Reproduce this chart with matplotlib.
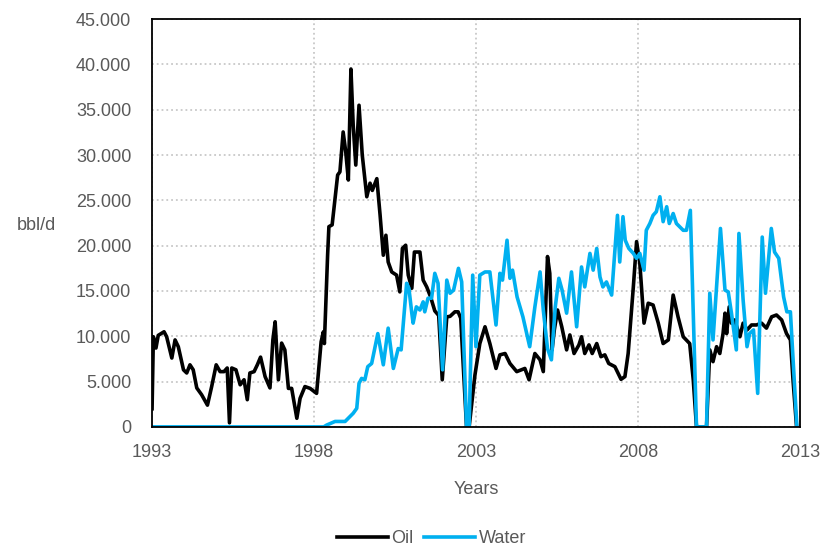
import matplotlib.pyplot as plt
from matplotlib.ticker import FuncFormatter

plt.rcParams['font.family'] = ['Liberation Sans', 'DejaVu Sans']

# oil production (decimal years, bbl/d)
oil_years = [1993.00, 1993.04, 1993.12, 1993.19, 1993.37, 1993.45, 1993.61, 1993.71, 1993.81, 1993.97,
             1994.07, 1994.17, 1994.27, 1994.38, 1994.53, 1994.71, 1994.84, 1994.98, 1995.10, 1995.22,
             1995.32, 1995.39, 1995.46, 1995.59, 1995.72, 1995.84, 1995.94, 1996.02, 1996.15, 1996.25,
             1996.35, 1996.49, 1996.64, 1996.73, 1996.80, 1996.90, 1997.00, 1997.10, 1997.21, 1997.31,
             1997.47, 1997.57, 1997.72, 1997.88, 1998.08, 1998.13, 1998.22, 1998.29, 1998.32, 1998.42,
             1998.46, 1998.56, 1998.65, 1998.73, 1998.80, 1998.90, 1998.98, 1999.06, 1999.14, 1999.21,
             1999.29, 1999.39, 1999.49, 1999.63, 1999.73, 1999.80, 1999.94, 2000.04, 2000.14, 2000.22,
             2000.29, 2000.40, 2000.55, 2000.65, 2000.73, 2000.83, 2000.91, 2001.02, 2001.10, 2001.27,
             2001.37, 2001.48, 2001.60, 2001.73, 2001.85, 2001.96, 2002.10, 2002.20, 2002.35, 2002.45,
             2002.53, 2002.71, 2002.79, 2002.97, 2003.12, 2003.28, 2003.43, 2003.62, 2003.74, 2003.90,
             2004.05, 2004.26, 2004.51, 2004.64, 2004.82, 2004.98, 2005.08, 2005.21, 2005.28, 2005.35,
             2005.42, 2005.52, 2005.65, 2005.80, 2005.90, 2006.03, 2006.18, 2006.26, 2006.36, 2006.49,
             2006.59, 2006.73, 2006.86, 2006.98, 2007.10, 2007.29, 2007.48, 2007.60, 2007.70, 2007.86,
             2007.96, 2008.06, 2008.19, 2008.32, 2008.47, 2008.63, 2008.78, 2008.94, 2009.09, 2009.24,
             2009.40, 2009.60, 2009.71, 2009.81, 2010.12, 2010.22, 2010.32, 2010.43, 2010.53, 2010.63,
             2010.69, 2010.74, 2010.82, 2010.89, 2010.99, 2011.15, 2011.25, 2011.37, 2011.51, 2011.66,
             2011.82, 2011.97, 2012.13, 2012.28, 2012.44, 2012.59, 2012.71, 2012.79, 2012.90]
oil_bbl = [2000, 9950, 8700, 10100, 10500, 9950, 7600, 9600, 8850, 6300,
           5950, 6850, 6300, 4300, 3550, 2400, 4450, 6850, 6100, 6100,
           6500, 450, 6500, 6300, 4650, 5200, 3000, 5950, 6100, 6850,
           7700, 5550, 4300, 9600, 11600, 5200, 9250, 8500, 4250, 4250,
           950, 3150, 4450, 4250, 3700, 5750, 9400, 10500, 9200, 18950,
           22100, 22300, 25200, 27800, 28150, 32550, 30350, 27250, 39500, 33300,
           28900, 35500, 30000, 25400, 26900, 26100, 27400, 23400, 18950, 21150,
           18200, 17100, 16750, 14900, 19700, 20050, 16750, 15300, 19300, 19300,
           16200, 15450, 14350, 12800, 12300, 5200, 12150, 12200, 12700, 12700,
           12000, 0, 0, 5750, 9200, 11050, 9200, 6450, 7950, 8100,
           7000, 6100, 6450, 5200, 8100, 7400, 6100, 18800, 16950, 8500,
           10700, 12900, 11050, 8500, 10150, 8100, 9050, 9950, 8100, 9050,
           8100, 9200, 7750, 7950, 7000, 6650, 5250, 5550, 8100, 15450,
           20450, 18050, 11450, 13650, 13450, 11450, 9200, 9600, 14550, 12150,
           9950, 9200, 5200, 0, 0, 8500, 7200, 8850, 8100, 10300,
           12550, 10300, 13250, 11450, 11800, 9950, 11450, 10700, 11250, 11250,
           11450, 10900, 12150, 12350, 11800, 10300, 9600, 5200, 0]

# water production
water_years = [1993.00, 1998.30, 1998.39, 1998.65, 1998.96, 1999.21, 1999.32, 1999.39, 1999.47, 1999.57,
               1999.66, 1999.78, 1999.97, 2000.14, 2000.29, 2000.45, 2000.60, 2000.69, 2000.86, 2000.93,
               2001.02, 2001.06, 2001.16, 2001.27, 2001.37, 2001.42, 2001.52, 2001.63, 2001.73, 2001.83,
               2001.97, 2002.10, 2002.20, 2002.31, 2002.46, 2002.56, 2002.71, 2002.79, 2002.90, 2003.00,
               2003.12, 2003.28, 2003.43, 2003.62, 2003.74, 2003.82, 2003.96, 2004.05, 2004.13, 2004.27,
               2004.45, 2004.66, 2004.82, 2004.98, 2005.08, 2005.21, 2005.33, 2005.45, 2005.56, 2005.66,
               2005.80, 2005.95, 2006.11, 2006.26, 2006.36, 2006.52, 2006.62, 2006.73, 2006.83, 2006.92,
               2007.03, 2007.19, 2007.37, 2007.44, 2007.54, 2007.61, 2007.72, 2007.86, 2007.96, 2008.06,
               2008.19, 2008.26, 2008.37, 2008.47, 2008.57, 2008.68, 2008.78, 2008.89, 2008.97, 2009.09,
               2009.19, 2009.40, 2009.50, 2009.62, 2009.71, 2009.81, 2010.12, 2010.22, 2010.32, 2010.55,
               2010.69, 2010.79, 2010.89, 2011.04, 2011.12, 2011.25, 2011.37, 2011.45, 2011.57, 2011.70,
               2011.84, 2011.94, 2012.12, 2012.22, 2012.35, 2012.50, 2012.60, 2012.71, 2012.77, 2012.91]
water_bbl = [0, 0, 200, 600, 600, 1500, 2050, 4800, 5350, 5200,
             6650, 7000, 10300, 6850, 10900, 6450, 8650, 8500, 15850, 15300,
             12550, 11450, 13250, 12900, 13800, 12700, 14200, 14200, 16950, 15850,
             6300, 16200, 14750, 15100, 17500, 16000, 0, 0, 16750, 8850,
             16750, 17100, 17100, 11250, 16950, 16200, 20600, 16400, 17300, 14350,
             12150, 8850, 13250, 17100, 12900, 8650, 7400, 13250, 16400, 15100,
             12550, 17100, 11050, 17650, 15450, 19150, 17300, 19700, 16550, 15450,
             16000, 14550, 23350, 18200, 23200, 20600, 19700, 19150, 18600, 19150,
             17300, 21700, 22450, 23350, 23750, 25400, 22650, 24300, 22450, 23550,
             22450, 21700, 21700, 23900, 12550, 0, 0, 14750, 9600, 21900,
             15100, 14900, 12550, 8500, 21350, 14000, 8850, 10300, 10700, 3700,
             20950, 14750, 21900, 19300, 18600, 14350, 12700, 12700, 8850, 0]

year_ticks = [1993, 1998, 2003, 2008, 2013]
text_gray = '#595959'

fig = plt.figure(figsize=(8.22, 5.48), dpi=100)
ax = fig.add_axes([0.185, 0.221, 0.788, 0.744])

ax.plot(oil_years, oil_bbl, color='black', lw=2.6, label='Oil', solid_joinstyle='round')
ax.plot(water_years, water_bbl, color='#00B0F0', lw=2.6, label='Water', solid_joinstyle='round')

ax.set_xlim(1993, 2013)
ax.set_ylim(0, 45000)
ax.set_xticks(year_ticks)
ax.set_yticks(range(0, 45001, 5000))
ax.yaxis.set_major_formatter(FuncFormatter(lambda v, p: f'{int(v):,}'.replace(',', '.')))
ax.tick_params(length=0, labelsize=13, labelcolor=text_gray)
ax.tick_params(axis='y', pad=15)
ax.tick_params(axis='x', pad=12)
ax.grid(color='#C8C8C8', linestyle=':', linewidth=1.3)
ax.set_axisbelow(True)
for s in ax.spines.values():
    s.set_color('black')
    s.set_linewidth(1.3)

ax.set_xlabel('Years', fontsize=13, color=text_gray, labelpad=15)
ax.set_ylabel('bbl/d', fontsize=13, color=text_gray, rotation=0, va='center', ha='center')
ax.yaxis.set_label_coords(-0.178, 0.495)

fig.legend(loc='lower center', bbox_to_anchor=(0.525, -0.028), ncol=2, frameon=False,
           fontsize=13, labelcolor=text_gray, handlelength=2.8, columnspacing=0.6, handletextpad=0.2)

fig.savefig('out.png', dpi=100)
